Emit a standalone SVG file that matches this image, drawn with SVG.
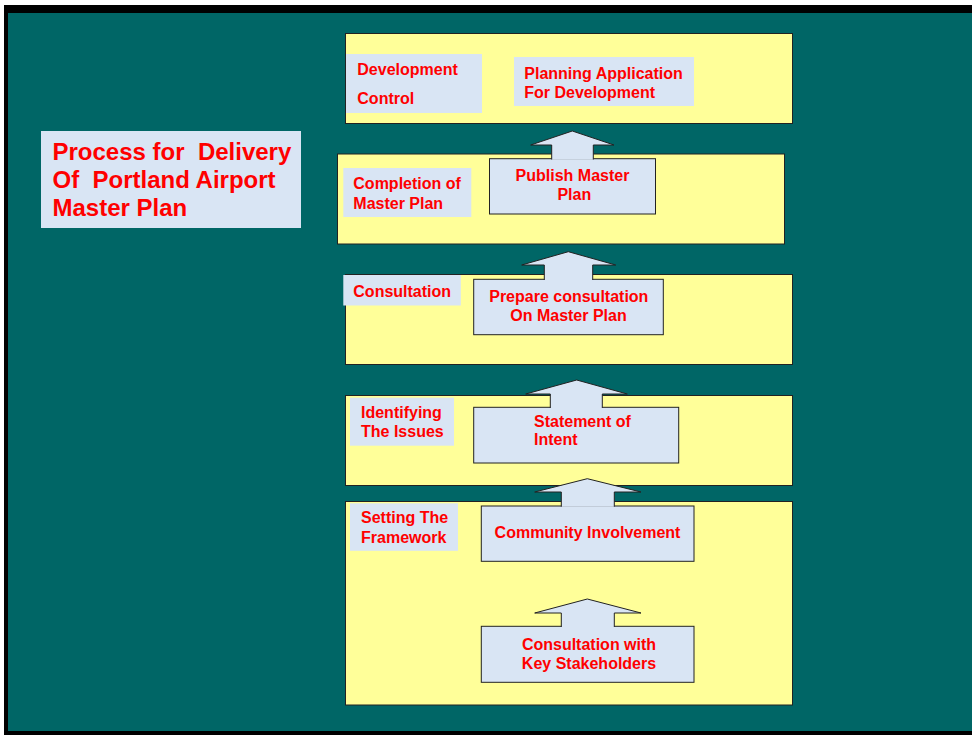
<svg xmlns="http://www.w3.org/2000/svg" width="972" height="735" viewBox="0 0 972 735">
<style>
.stage{fill:#FFFF99;stroke:#222;stroke-width:1}
.lbl{fill:#D9E5F4}
.blk{fill:#D9E5F4;stroke:#222;stroke-width:1}
text{font-family:"Liberation Sans",Arial,sans-serif;font-weight:bold;fill:#FF0000;font-size:16px;white-space:pre}
.title{font-size:24px}
.c{text-anchor:middle}
</style>
<rect x="0" y="0" width="972" height="735" fill="#FFFFFF"/>
<rect x="4" y="5" width="968" height="730" fill="#000000"/>
<rect x="8" y="13" width="964" height="718" fill="#006666"/>

<g id="title">
<rect class="lbl" x="41" y="131" width="260" height="97"/>
<text class="title" x="52.5" y="159.5" xml:space="preserve">Process for  Delivery</text>
<text class="title" x="52.5" y="187.5" xml:space="preserve">Of  Portland Airport</text>
<text class="title" x="52.5" y="216">Master Plan</text>
</g>

<g id="stage-development-control">
<rect class="stage" x="345.5" y="33.5" width="447" height="90"/>
<rect class="lbl" x="346" y="54" width="136" height="59"/>
<text x="357.3" y="75">Development</text>
<text x="357.3" y="104">Control</text>
<rect class="lbl" x="514" y="57" width="180" height="49"/>
<text x="524.3" y="79.3">Planning Application</text>
<text x="524.3" y="98">For Development</text>
</g>

<g id="stage-completion">
<rect class="stage" x="337.5" y="154" width="447" height="90"/>
<rect class="lbl" x="343.3" y="168" width="128" height="49"/>
<text x="353.3" y="189">Completion of</text>
<text x="353.3" y="208.7">Master Plan</text>
</g>

<g id="stage-consultation">
<rect class="stage" x="345.5" y="274.5" width="447" height="90"/>
<rect class="lbl" x="343.3" y="275" width="117.5" height="30.5"/>
<text x="353.3" y="296.7">Consultation</text>
</g>

<g id="stage-identifying">
<rect class="stage" x="345.5" y="395.5" width="447" height="90"/>
<rect class="lbl" x="350" y="397.7" width="104" height="48"/>
<text x="361" y="418.3">Identifying</text>
<text x="361" y="436.7">The Issues</text>
</g>

<g id="stage-framework">
<rect class="stage" x="345.5" y="501.5" width="447" height="203.5"/>
<rect class="lbl" x="350" y="503.3" width="108" height="47.5"/>
<text x="361" y="523.3">Setting The</text>
<text x="361" y="543.3">Framework</text>
</g>

<g id="publish-master-plan">
<rect class="blk" x="489.5" y="158.7" width="166" height="55.3"/>
</g>
<g id="prepare-consultation">
<rect class="blk" x="473.7" y="279.3" width="189.6" height="55.4"/>
</g>
<g id="statement-of-intent">
<rect class="blk" x="473.7" y="407.3" width="205" height="55.7"/>
</g>
<g id="community-involvement">
<rect class="blk" x="481.3" y="506" width="212.7" height="55.3"/>
</g>
<g id="consultation-stakeholders">
<rect class="blk" x="481.3" y="626.3" width="212.7" height="56"/>
</g>

<g id="connectors" fill="#D9E5F4" stroke="#222" stroke-width="1">
<path d="M551.7 159.5 V145 H530.7 L572.3 131 L614 145 H593.3 V159.5"/>
<path d="M544.3 280 V265 H521.7 L568.3 251.7 L615.7 265 H592.7 V280"/>
<path d="M550.3 408 V394 H525.7 L576.7 380 L627.3 394 H602.3 V408"/>
<path d="M561.3 506.7 V492 H534.7 L587.3 478.7 L641 492 H614.3 V506.7"/>
<path d="M561.3 627 V613 H534.7 L587.3 599 L641 613 H614.3 V627"/>
</g>

<g id="node-texts">
<text class="c" x="572.5" y="181.3">Publish Master</text>
<text class="c" x="574.3" y="199.7">Plan</text>
<text class="c" x="568.8" y="302.3">Prepare consultation</text>
<text class="c" x="568.5" y="321">On Master Plan</text>
<text x="534" y="426.7">Statement of</text>
<text x="534" y="445">Intent</text>
<text class="c" x="587.5" y="538.3">Community Involvement</text>
<text class="c" x="589" y="650">Consultation with</text>
<text class="c" x="589" y="669">Key Stakeholders</text>
</g>
</svg>
